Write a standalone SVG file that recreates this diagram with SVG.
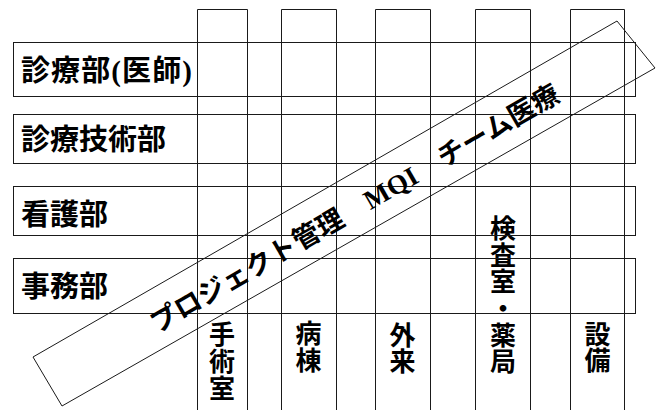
<svg xmlns="http://www.w3.org/2000/svg" width="657" height="410" viewBox="0 0 657 410">
<style>
.ln{fill:none;stroke:#1a1a1a;stroke-width:1}
.lbl{font-family:"Liberation Serif","Noto Sans CJK JP",serif;font-weight:700;font-size:29px;fill:#000}
.col{font-family:"Noto Sans CJK JP",sans-serif;font-weight:700;font-size:26px;fill:#000;writing-mode:vertical-rl;letter-spacing:1px}
.band{font-family:"Liberation Serif","Noto Sans CJK JP",serif;font-weight:700;font-size:27px;fill:#000}
</style>
<rect width="657" height="410" fill="#fff"/>
<g id="col-shujutsu"><path class="ln" d="M197.5 420V9.5H247.5V420"/><text class="col" x="222" y="321">手術室</text></g>
<g id="col-byoto"><path class="ln" d="M281.5 420V9.5H336.5V420"/><text class="col" x="308.5" y="320">病棟</text></g>
<g id="col-gairai"><path class="ln" d="M375.5 420V9.5H430.5V420"/><text class="col" x="402.5" y="322" style="letter-spacing:0">外来</text></g>
<g id="col-kensa"><path class="ln" d="M475.5 420V9.5H530.5V420"/><text class="col" x="503" y="215" style="letter-spacing:0.7px">検査室・薬局</text></g>
<g id="col-setsubi"><path class="ln" d="M570.5 420V9.5H624.5V420"/><text class="col" x="597.5" y="321" style="letter-spacing:0">設備</text></g>
<g id="row-shinryo"><rect class="ln" x="13.5" y="42.5" width="622" height="54"/><text class="lbl" x="21" y="81" textLength="171" lengthAdjust="spacing">診療部(医師)</text></g>
<g id="row-gijutsu"><rect class="ln" x="13.5" y="114.5" width="622" height="49"/><text class="lbl" x="21" y="150">診療技術部</text></g>
<g id="row-kango"><rect class="ln" x="13.5" y="186.5" width="622" height="49"/><text class="lbl" x="21" y="225">看護部</text></g>
<g id="row-jimu"><rect class="ln" x="13.5" y="258.5" width="622" height="55"/><text class="lbl" x="21" y="297">事務部</text></g>
<g id="band"><polygon class="ln" points="33,357 617,21 655,68 62,406"/><text class="band" transform="translate(341.75,213) rotate(-30)" x="-220" y="12" textLength="467" lengthAdjust="spacing">プロジェクト管理　MQI　チーム医療</text></g>
<g id="connectors"></g>
</svg>
